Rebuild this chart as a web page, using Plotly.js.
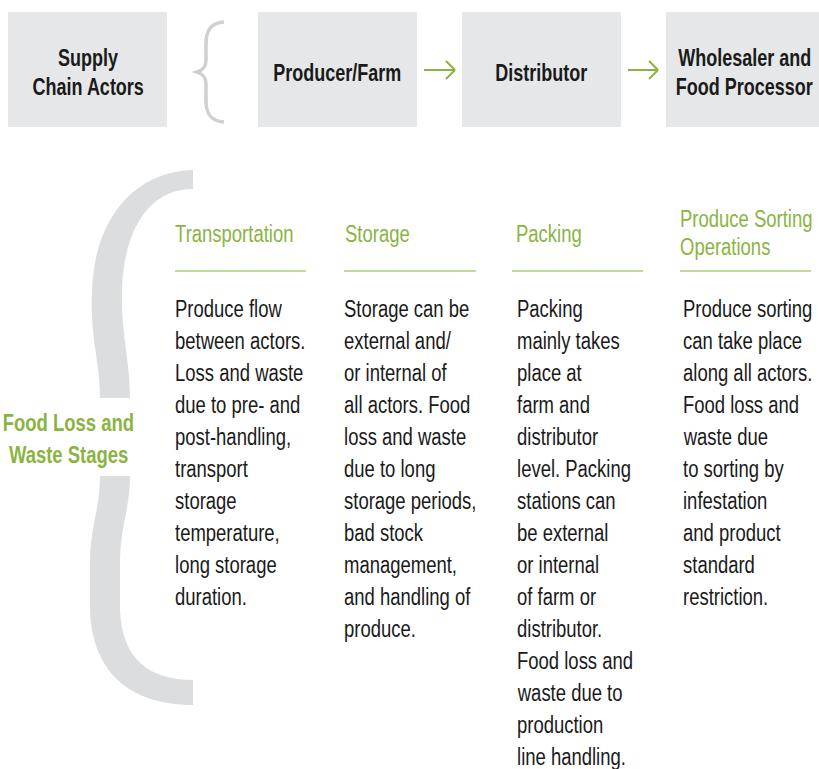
<!DOCTYPE html>
<html>
<head>
<meta charset="utf-8">
<script src="https://cdn.plot.ly/plotly-3.0.1.min.js"></script>
<style>
html,body{margin:0;padding:0;background:#fff;}
#chart{width:819px;height:769px;}
</style>
</head>
<body>
<div id="chart"></div>
<script>
// ---- content ----
const actorLabel = ["Supply", "Chain Actors"];
const actors = [["Producer/Farm"], ["Distributor"], ["Wholesaler and", "Food Processor"]];
const stagesLabel = ["Food Loss and", "Waste Stages"];
const stageTitles = [["Transportation"], ["Storage"], ["Packing"], ["Produce Sorting", "Operations"]];
const col1 = ["Produce flow", "between actors.", "Loss and waste", "due to pre- and", "post-handling,", "transport", "storage", "temperature,", "long storage", "duration."];
const col2 = ["Storage can be", "external and/", "or internal of", "all actors. Food", "loss and waste", "due to long", "storage periods,", "bad stock", "management,", "and handling of", "produce."];
const col3 = ["Packing", "mainly takes", "place at", "farm and", "distributor", "level. Packing", "stations can", "be external", "or internal", "of farm or", "distributor.", "Food loss and", "waste due to", "production", "line handling."];
const col4 = ["Produce sorting", "can take place", "along all actors.", "Food loss and", "waste due", "to sorting by", "infestation", "and product", "standard", "restriction."];
const columns = [col1, col2, col3, col4];

// ---- style / layout ----
const FONT = '"Liberation Sans", Arial, sans-serif';
const NARROW = 0.77;       // horizontal condensing (source uses a condensed face)
const NARROW_BOLD = 0.75;
const SIZE = 24;
const GREEN = '#8ab43f';
const BOXGRAY = '#e6e7e8';
const BRACE = '#dcdddf';
const INK = '#1a1a1a';

const shapes = [];
const annotations = [];
const scales = [];

function rect(x0, y0, x1, y1, color) {
  shapes.push({type: 'rect', xref: 'x', yref: 'y', x0, y0, x1, y1, fillcolor: color, line: {width: 0}, layer: 'below'});
}
function line(x0, y0, x1, y1, color, w) {
  shapes.push({type: 'line', xref: 'x', yref: 'y', x0, y0, x1, y1, line: {color, width: w}});
}
function text(t, x, y, opts, sc) {
  annotations.push(Object.assign({
    text: t, x, y, xref: 'x', yref: 'y', showarrow: false,
    xanchor: 'left', yanchor: 'middle',
    font: {family: FONT, size: SIZE, color: INK}
  }, opts || {}));
  scales.push(sc || NARROW);
}

// top boxes
const boxes = [[8, 167], [258, 417], [462, 621], [666, 830]];
boxes.forEach(b => rect(b[0], 12, b[1], 127, BOXGRAY));
const boldFont = {family: FONT, size: SIZE, color: INK, weight: 700};
text('<b>' + actorLabel[0] + '</b>', 88, 57, {xanchor: 'center', font: boldFont}, NARROW_BOLD);
text('<b>' + actorLabel[1] + '</b>', 88, 86, {xanchor: 'center', font: boldFont}, NARROW_BOLD);
const actorCx = [337, 541, 744];
actors.forEach((a, i) => {
  if (a.length === 1) text('<b>' + a[0] + '</b>', actorCx[i], 72, {xanchor: 'center', font: boldFont}, NARROW_BOLD);
  else a.forEach((s, j) => text('<b>' + s + '</b>', actorCx[i], 57 + 29 * j, {xanchor: 'center', font: boldFont}, NARROW_BOLD));
});

// small brace
shapes.push({type: 'path', xref: 'x', yref: 'y', layer: 'above',
  path: 'M 224,22 C 211,23 206,30 206,44 L 206,60 C 206,67 203,70 197,72 C 203,74 206,77 206,84 L 206,101 C 206,114 211,121 224,122',
  line: {color: '#cfd0d2', width: 3.5}});

// arrows
[[424, 455], [628, 658]].forEach(a => {
  line(a[0], 70, a[1], 70, GREEN, 2);
  line(a[1] - 9, 61, a[1], 70, GREEN, 2);
  line(a[1] - 9, 79, a[1], 70, GREEN, 2);
});

// big brace (two visible pieces; middle hidden behind label)
shapes.push({type: 'path', xref: 'x', yref: 'y', layer: 'below', fillcolor: BRACE, line: {width: 0},
  path: 'M 193,170 C 140,171 95,212 92,290 C 90,340 100,360 100,398 L 130,398 C 130,360 121,335 122,290 C 124,228 150,189 193,189 Z'});
shapes.push({type: 'path', xref: 'x', yref: 'y', layer: 'below', fillcolor: BRACE, line: {width: 0},
  path: 'M 100,476 C 100,510 90,525 90,565 L 90,610 C 92,672 130,705 193,705 L 193,680 C 150,680 122,660 120,610 L 120,565 C 120,525 130,510 130,476 Z'});

// stages label
const greenBold = {family: FONT, size: SIZE, color: GREEN, weight: 700};
stagesLabel.forEach((s, j) => text('<b>' + s + '</b>', 68, 422 + 32 * j, {xanchor: 'center', font: greenBold}));

// stage columns
const colX = [173, 342, 515, 681];
const titleX = [173, 343, 514, 678];
const ruleX = [[175, 306], [344, 476], [512, 643], [680, 811]];
const greenFont = {family: FONT, size: SIZE, color: GREEN};
stageTitles.forEach((t, i) => {
  if (t.length === 1) text(t[0], titleX[i], 233, {font: greenFont});
  else t.forEach((s, j) => text(s, titleX[i], 218 + 28 * j, {font: greenFont}));
  line(ruleX[i][0], 271, ruleX[i][1], 271, GREEN, 1.2);
});
const bodyFont = {family: FONT, size: SIZE, color: INK};
columns.forEach((col, i) => {
  col.forEach((s, j) => text(s, colX[i], 308 + 32 * j, {font: bodyFont}));
});

const layout = {
  width: 819, height: 769,
  margin: {l: 0, r: 0, t: 0, b: 0},
  paper_bgcolor: '#ffffff', plot_bgcolor: '#ffffff',
  xaxis: {range: [0, 819], visible: false, fixedrange: true},
  yaxis: {range: [769, 0], visible: false, fixedrange: true},
  showlegend: false,
  shapes, annotations
};
Plotly.newPlot('chart', [], layout, {staticPlot: true, displayModeBar: false}).then(gd => {
  const groups = gd.querySelectorAll('g.annotation');
  groups.forEach((g, i) => {
    const t = g.querySelector('text.annotation-text');
    if (!t) return;
    const anchor = annotations[i] ? annotations[i].xanchor : 'left';
    t.style.transformBox = 'fill-box';
    t.style.transformOrigin = (anchor === 'center' ? 'center' : 'left') + ' center';
    t.style.transform = 'scaleX(' + (scales[i] || NARROW) + ')';
  });
});
</script>
</body>
</html>
